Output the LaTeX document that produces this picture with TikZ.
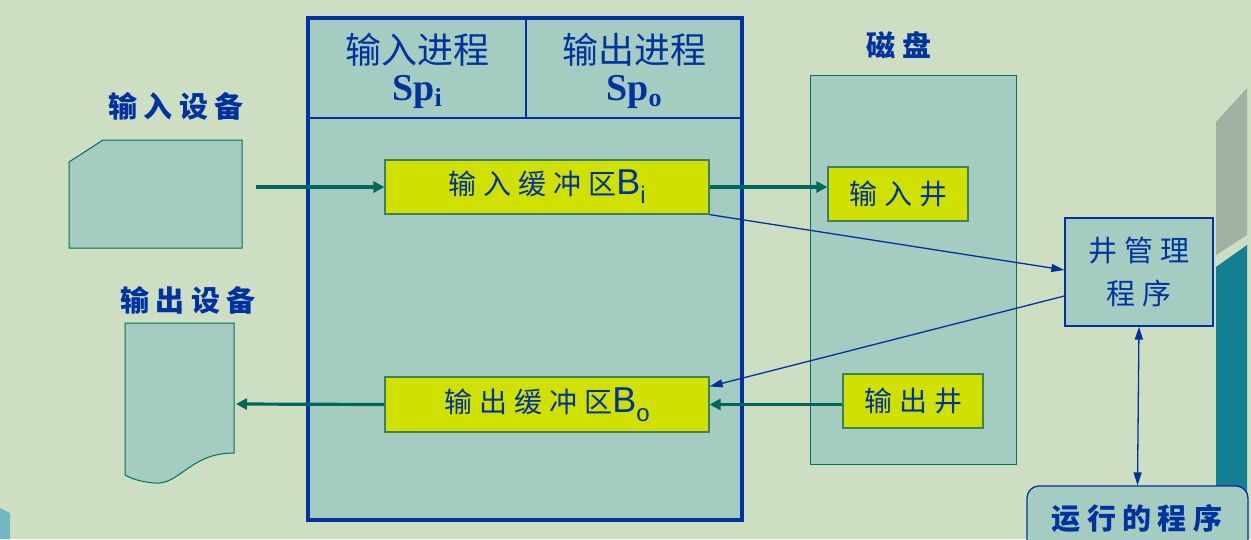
\documentclass[tikz,border=0pt]{standalone}
\usepackage{fontspec}
\usetikzlibrary{arrows.meta}
\newfontfamily\cjk{Noto Sans CJK SC}
\newfontfamily\cjkls{Noto Sans CJK SC}[LetterSpace=25]
\newfontfamily\cjklsb{Noto Sans CJK SC}[LetterSpace=22]
\newfontfamily\tms{Liberation Serif}
\newfontfamily\arl{Liberation Sans}
\definecolor{bg}{RGB}{206,222,194}
\definecolor{tealfill}{RGB}{164,204,192}
\definecolor{dkgreen}{RGB}{0,112,96}
\definecolor{ybox}{RGB}{208,224,0}
\definecolor{ystroke}{RGB}{60,130,90}
\definecolor{tblue}{RGB}{0,51,160}
\definecolor{agreen}{RGB}{0,104,88}
\definecolor{decogray}{RGB}{160,176,162}
\definecolor{decoteal}{RGB}{18,128,144}
\definecolor{decolight}{RGB}{112,184,192}
\tikzset{
  bufbox/.style={draw=ystroke, line width=1.2pt, fill=ybox, inner sep=0pt, text=tblue},
  jingbox/.style={draw=ystroke, line width=1.2pt, fill=ybox, inner sep=0pt, text=tblue, font=\cjkls\fontsize{28}{32}\selectfont},
  devshape/.style={draw=dkgreen, line width=1pt, fill=tealfill},
  title/.style={text=tblue, font=\cjklsb\bfseries\fontsize{29}{32}\selectfont},
  proctitle/.style={text=tblue, inner sep=0pt, font=\cjk\fontsize{36}{40}\selectfont},
  procsub/.style={text=tblue, inner sep=0pt, font=\tms\bfseries\fontsize{38}{40}\selectfont},
  garrow/.style={draw=agreen, line width=3.2pt, -{Triangle[length=11pt,width=11pt]}},
  barrow/.style={draw=tblue, line width=1.3pt, -{Triangle[length=13pt,width=8pt]}},
  bbarrow/.style={draw=tblue, line width=1.3pt, {Triangle[length=13pt,width=8pt]}-{Triangle[length=13pt,width=8pt]}}
}
\begin{document}
\begin{tikzpicture}[x=1pt,y=-1pt]
\useasboundingbox (0,0) rectangle (1251,539);
\clip (0,0) rectangle (1251,539);
\fill[bg] (0,0) rectangle (1251,539);
% slide decorations
\fill[decogray] (1216,122) -- (1247,88) -- (1247,235) -- (1216,255) -- cycle;
\fill[decoteal] (1216,267) -- (1247,245) -- (1247,539) -- (1216,539) -- cycle;
\fill[decolight] (0,508) -- (10,513) -- (10,539) -- (0,539) -- cycle;

% main box
\node[draw=tblue, line width=4pt, fill=tealfill, minimum width=434pt, minimum height=502pt, inner sep=0pt] (main) at (525,269) {};
\draw[tblue, line width=1.3pt] (main.west |- 0,118) -- (main.east |- 0,118);
\draw[tblue, line width=1.3pt] (526,18) -- (526,118);
\node[proctitle] (pin) at (417,50) {输入进程};
\node[procsub] (spi) at (417,92) {Sp\raisebox{-6pt}{\fontsize{26}{28}\selectfont i}};
\node[proctitle] (pout) at (634,50) {输出进程};
\node[procsub] (spo) at (634,92) {Sp\raisebox{-6pt}{\fontsize{26}{28}\selectfont o}};

% input device
\node[title] (inlab) at (176,106) {输入设备};
\draw[devshape] (69,162) -- (103,140) -- (242,140) -- (242,248) -- (69,248) -- cycle;
\coordinate (instart) at (256,187);
% output device
\node[title] (outlab) at (188,300) {输出设备};
\draw[devshape] (125,323) -- (234,323) -- (234,453)
  .. controls (190,453) and (180,485) .. (155,483)
  .. controls (140,482) and (130,478) .. (125,475) -- cycle;
\coordinate (outend) at (236,404);

% buffers
\node[bufbox, minimum width=324pt, minimum height=54pt] (bi) at (547,187)
  {\cjkls\fontsize{28}{32}\selectfont 输入缓冲区{\arl\fontsize{36}{38}\selectfont B\raisebox{-9pt}{\fontsize{24}{26}\selectfont i}}};
\node[bufbox, minimum width=324pt, minimum height=55pt] (bo) at (547,404.5)
  {\cjkls\fontsize{28}{32}\selectfont 输出缓冲区{\arl\fontsize{36}{38}\selectfont B\raisebox{-9pt}{\fontsize{24}{26}\selectfont o}}};

% disk
\node[title] (disklab) at (899,45) {磁盘};
\node[draw=dkgreen, line width=1pt, fill=tealfill, minimum width=206pt, minimum height=389pt, inner sep=0pt] (disk) at (913,269.5) {};
\node[jingbox, minimum width=140pt, minimum height=54pt] (injing) at (898,194) {输入井};
\node[jingbox, minimum width=140pt, minimum height=54pt] (outjing) at (913,401) {输出井};

% well manager
\node[draw=tblue, line width=1.3pt, fill=tealfill, minimum width=148pt, minimum height=108pt, inner sep=0pt, text=tblue, align=center, font=\cjkls\fontsize{29}{43}\selectfont] (jgl) at (1139,272) {井管理\\程序};
% running program
\node[draw=tblue, line width=1.3pt, fill=tealfill, rounded corners=12pt, minimum width=221pt, minimum height=90pt, inner sep=0pt] (run) at (1137.5,531) {};
\node[title] (runlab) at (1137,519) {运行的程序};

% connectors
\draw[garrow] (instart) -- (bi.west);
\draw[garrow] (bi.east) -- (bi.east -| injing.west);
\draw[garrow] (outjing.west |- bo.east) -- (bo.east);
\draw[garrow] (bo.west) -- (outend);
\draw[barrow] (bi.south east) -- ([yshift=2pt]jgl.west);
\draw[barrow] ([yshift=-24pt]jgl.west) -- ([yshift=18pt]bo.east);
\draw[bbarrow] (jgl.south) -- (run.north);
\end{tikzpicture}
\end{document}
